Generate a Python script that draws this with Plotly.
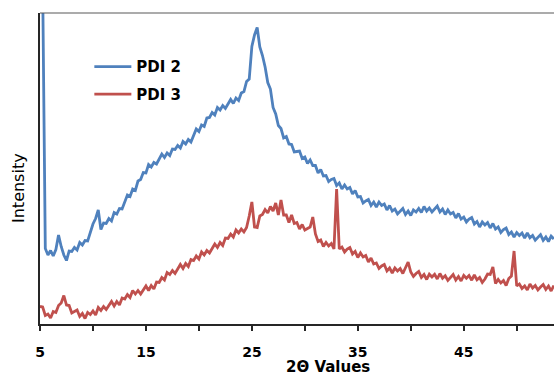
import numpy as np
import plotly.graph_objects as go

# 2-theta grid (degrees), 0.25 step from 5.00 to 53.50
two_theta = np.round(np.arange(5.0, 53.5001, 0.25), 2)

# Intensity values (arbitrary units)
pdi2 = [3600, 3400, 755, 690, 735, 680, 745, 890, 775, 690, 635, 730, 725,
        765, 740, 815, 790, 835, 830, 915, 1000, 1055, 1140, 945, 1010, 1005,
        1055, 1030, 1115, 1100, 1155, 1150, 1225, 1290, 1275, 1350, 1335, 1430, 1445,
        1515, 1510, 1595, 1570, 1615, 1600, 1655, 1700, 1665, 1710, 1685, 1750, 1745,
        1785, 1760, 1825, 1800, 1845, 1820, 1885, 1950, 1925, 1990, 1975, 2060, 2065,
        2115, 2090, 2165, 2140, 2185, 2155, 2205, 2245, 2205, 2260, 2235, 2310, 2325,
        2425, 2450, 2775, 2890, 2965, 2770, 2685, 2570, 2415, 2350, 2165, 2100, 1985,
        1955, 1860, 1875, 1800, 1795, 1720, 1725, 1730, 1655, 1670, 1605, 1640, 1585,
        1585, 1510, 1545, 1480, 1485, 1425, 1445, 1455, 1385, 1410, 1350, 1390, 1350,
        1365, 1300, 1335, 1270, 1275, 1210, 1230, 1245, 1185, 1220, 1170, 1220, 1185,
        1200, 1140, 1185, 1130, 1150, 1100, 1130, 1155, 1095, 1130, 1085, 1140, 1120,
        1155, 1115, 1175, 1130, 1160, 1120, 1155, 1180, 1120, 1150, 1095, 1140, 1100,
        1115, 1060, 1105, 1050, 1070, 1020, 1050, 1065, 1000, 1025, 970, 1020, 990,
        1015, 960, 1005, 950, 970, 915, 945, 960, 895, 920, 870, 915, 885,
        910, 860, 910, 862, 885, 838, 871, 894, 837, 870, 825, 878, 851]

pdi3 = [175, 170, 85, 100, 60, 125, 115, 185, 210, 285, 190, 185, 110,
        125, 140, 75, 105, 55, 115, 95, 130, 90, 165, 135, 175, 145,
        190, 225, 180, 225, 190, 260, 250, 295, 265, 335, 300, 335, 300,
        345, 380, 335, 385, 350, 420, 415, 465, 440, 515, 495, 535, 505,
        555, 595, 555, 605, 575, 645, 635, 680, 650, 720, 690, 735, 710,
        760, 800, 765, 815, 785, 860, 855, 900, 870, 940, 910, 950, 920,
        965, 1080, 1220, 970, 965, 1080, 1095, 1145, 1110, 1175, 1130, 1210, 1090,
        1240, 1090, 1090, 1015, 1090, 1005, 1015, 950, 995, 940, 955, 970, 1070,
        900, 825, 840, 775, 815, 780, 805, 750, 1350, 750, 770, 720, 750,
        765, 700, 725, 665, 710, 670, 685, 620, 660, 600, 610, 555, 580,
        595, 530, 560, 510, 560, 530, 555, 505, 555, 620, 520, 475, 505,
        525, 465, 495, 445, 498, 470, 497, 450, 505, 458, 482, 436, 470,
        495, 440, 475, 430, 485, 457, 485, 438, 490, 442, 465, 415, 450,
        500, 495, 570, 405, 445, 410, 435, 385, 455, 480, 730, 380, 400,
        355, 380, 340, 400, 360, 385, 340, 370, 395, 345, 380, 330, 385]

series_names = ["PDI 2", "PDI 3"]
series_colors = ["#4F81BD", "#C0504D"]

tick_vals = [5, 10, 15, 20, 25, 30, 35, 40, 45, 50]
tick_text = ["<b>5</b>", "", "<b>15</b>", "", "<b>25</b>", "", "<b>35</b>", "", "<b>45</b>", ""]

FONT = "DejaVu Sans"

fig = go.Figure()
for name, ys, col, grp in zip(series_names, [pdi2, pdi3], series_colors, ["a", "b"]):
    fig.add_trace(go.Scatter(
        x=two_theta, y=ys, mode="lines", name=f"<b>{name}</b>",
        legendgroup=grp,
        line=dict(color=col, width=2.8),
    ))

fig.update_layout(
    width=554, height=377,
    margin=dict(l=40, r=0, t=13, b=53),
    paper_bgcolor="white", plot_bgcolor="white",
    font=dict(family=FONT, color="black", size=14),
    showlegend=True,
    legend=dict(x=0.096, y=0.88, xanchor="left", yanchor="top",
                bgcolor="rgba(0,0,0,0)", font=dict(size=15, family=FONT),
                itemwidth=37, traceorder="grouped", tracegroupgap=5),
    xaxis=dict(range=[5, 53.52], showline=True, linecolor="#262626", linewidth=1.5,
               showgrid=False, zeroline=False, ticks="outside", ticklen=5,
               tickwidth=1.5, tickcolor="#262626", ticklabelstandoff=9,
               tickvals=tick_vals, ticktext=tick_text,
               tickfont=dict(size=14, family=FONT, color="black")),
    yaxis=dict(range=[0, 3110], showline=True, linecolor="#262626", linewidth=1.5,
               showgrid=False, zeroline=False, showticklabels=False, ticks=""),
    shapes=[dict(type="line", xref="paper", yref="paper", x0=0, x1=1, y0=1, y1=1,
                 line=dict(color="#595959", width=1.2))],
    annotations=[
        dict(text="<b>2\u0398 Values</b>", xref="paper", yref="paper",
             x=(328 - 40) / 514, y=-(367 - 324) / 311, xanchor="center", yanchor="middle",
             showarrow=False, font=dict(size=15, family=FONT, color="black")),
        dict(text="Intensity", xref="paper", yref="paper",
             x=-(40 - 19) / 514, y=(324 - 188) / 311, xanchor="center", yanchor="middle",
             textangle=-90, showarrow=False,
             font=dict(size=16, family=FONT, color="black")),
    ],
)

fig.write_html("out.html")
